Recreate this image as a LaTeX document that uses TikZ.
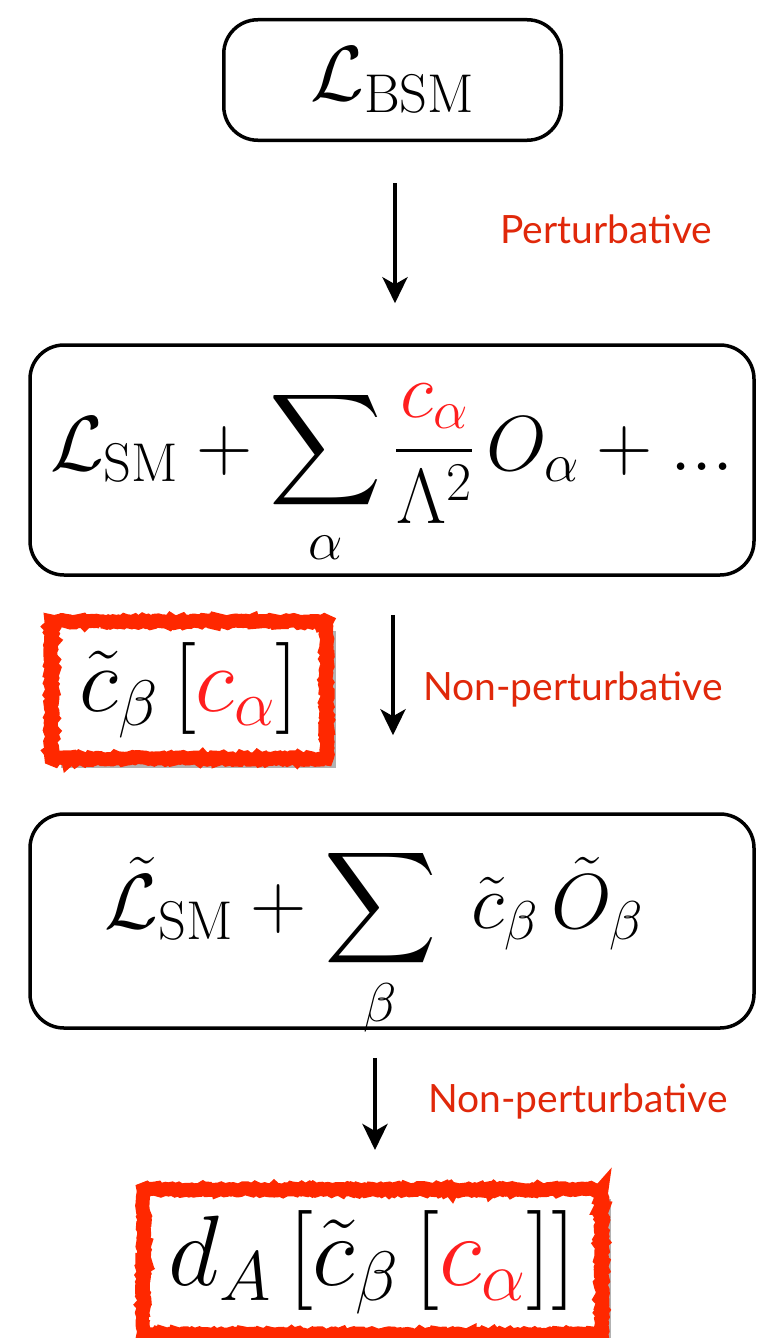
\RequirePackage{fix-cm}
\documentclass[tikz,border=0pt]{standalone}
\usepackage{fontspec}
\usepackage{tikz}
\usetikzlibrary{arrows.meta, positioning, shadows, decorations.pathmorphing}
\newfontfamily\labelfont{Lato}
\font\sumfont=cmex10 at 78pt
\newcommand\bigex{\textfont3=\sumfont\scriptfont3=\sumfont\scriptscriptfont3=\sumfont}
\definecolor{labred}{HTML}{E0280A}
\definecolor{frame}{HTML}{FF2800}
\definecolor{coeff}{HTML}{FF1E1E}
\tikzset{
  lagbox/.style={rectangle, draw=black, line width=3.5pt, rounded corners=34pt, fill=white, align=center, inner sep=0pt},
  redbox/.style={rectangle, draw=frame, line width=11pt, fill=white, inner sep=0pt,
    drop shadow={shadow xshift=9pt, shadow yshift=-9pt, opacity=.3, fill=black},
    postaction={draw=frame, line width=14pt, decorate, decoration={random steps, segment length=2.5pt, amplitude=1.4pt}}},
  flow/.style={-{Stealth[length=26pt, width=25pt, inset=7pt]}, line width=4pt},
  stepname/.style={text=labred, font=\labelfont\fontsize{39}{44}\selectfont, anchor=base west, inner sep=0pt},
  eq/.style={font=\fontsize{78}{88}\selectfont},
}

\begin{document}
\begin{tikzpicture}[x=1pt, y=-1pt]
  \useasboundingbox (0,0) rectangle (756,1338);
  \node[lagbox, eq, minimum width=337.5pt, minimum height=120.5pt] (bsm) at (392.5,80) {\(\mathcal{L}_{\mathrm{BSM}}\)};
  \node[lagbox, eq, minimum width=724pt, minimum height=230pt, text height=100pt, text depth=80pt] (smeft) at (392,460)
    {\(\bigex\displaystyle \mathcal{L}_{\mathrm{SM}} + \sum_{\alpha} \frac{\textcolor{coeff}{c_{\alpha}}}{\Lambda^2}\, O_{\alpha} + {...}\)};
  \node[redbox, font=\fontsize{92}{100}\selectfont, minimum width=275pt, minimum height=137pt] (ctilde) at (189,690)
    {\(\tilde{c}_{\beta}\,\bigl[\textcolor{coeff}{c_{\alpha}}\bigr]\)};
  \node[lagbox, eq, minimum width=724pt, minimum height=214pt, text height=74pt, text depth=60pt] (lowe) at (392,921)
    {\(\bigex\displaystyle \tilde{\mathcal{L}}_{\mathrm{SM}} + \sum_{\beta}\; \tilde{c}_{\beta}\, \tilde{O}_{\beta}\)\hspace{36pt}};
  \node[redbox, font=\fontsize{100}{108}\selectfont, minimum width=458pt, minimum height=145pt] (dA) at (372.5,1262)
    {\(d_A\,\bigl[\tilde{c}_{\beta}\,\bigl[\textcolor{coeff}{c_{\alpha}}\bigr]\bigr]\)};
  % step labels
  \node[stepname] (pert) at (500,243) {Perturbative};
  \node[stepname] (npert) at (423,700) {Non-perturbative};
  \node[stepname] (npertb) at (428,1112) {Non-perturbative};
  \draw[flow, shorten <=41pt, shorten >=40pt] ([xshift=2.5pt]bsm.south) -- ([xshift=3pt]smeft.north);
  \draw[flow, shorten <=38pt, shorten >=77pt] ([xshift=1pt]smeft.south) -- ([xshift=1pt]lowe.north);
  \draw[flow, shorten <=28pt, shorten >=34pt] ([xshift=-17pt]lowe.south) -- ([xshift=-17pt]lowe.south |- dA.north);
\end{tikzpicture}
\end{document}
